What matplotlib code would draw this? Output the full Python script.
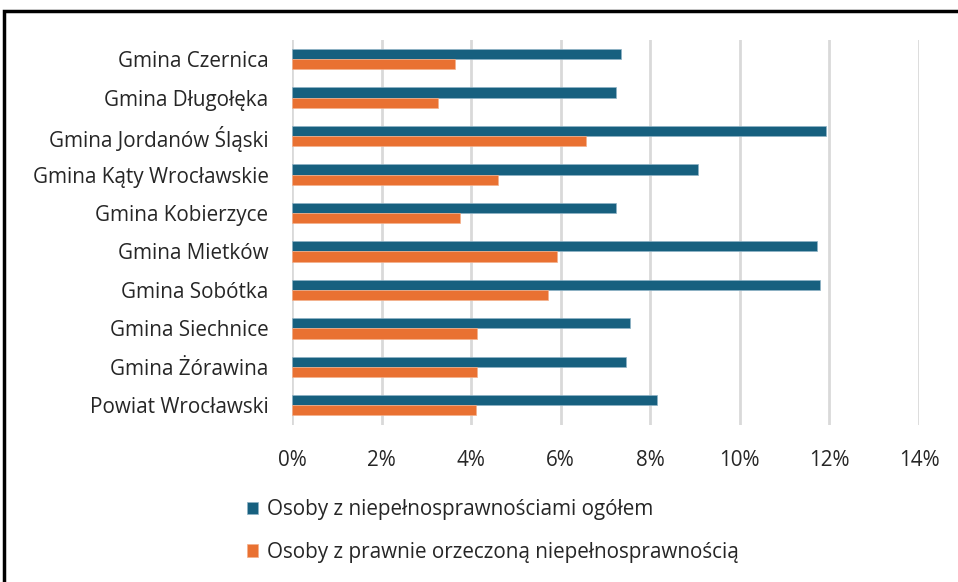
import numpy as np
import matplotlib.pyplot as plt
from matplotlib.patches import Rectangle
from matplotlib.ticker import PercentFormatter

plt.rcParams['font.family'] = ['Open Sans', 'DejaVu Sans']

categories = ['Gmina Czernica', 'Gmina Długołęka', 'Gmina Jordanów Śląski',
              'Gmina Kąty Wrocławskie', 'Gmina Kobierzyce', 'Gmina Mietków',
              'Gmina Sobótka', 'Gmina Siechnice', 'Gmina Żórawina',
              'Powiat Wrocławski']
ogolem = [7.34, 7.23, 11.93, 9.06, 7.23, 11.73, 11.78, 7.54, 7.46, 8.14]
orzeczona = [3.65, 3.25, 6.57, 4.60, 3.76, 5.91, 5.71, 4.14, 4.14, 4.11]
series_names = ['Osoby z niepełnosprawnościami ogółem',
                'Osoby z prawnie orzeczoną niepełnosprawnością']
xticks = [0, 2, 4, 6, 8, 10, 12, 14]

blue = '#17607f'
orange = '#e97132'
fs = 14.9

fig = plt.figure(figsize=(9.58, 5.82), dpi=100)
ax = fig.add_axes([292/958, 1 - 424.5/582, (919-292)/958, (424.5-40)/582])

y = np.arange(len(categories))
h = 0.265
ax.barh(y - h/2, ogolem, height=h, color=blue, edgecolor='#8fb3c6', linewidth=0.5,
        label=series_names[0], zorder=3)
ax.barh(y + h/2, orzeczona, height=h, color=orange, edgecolor='#f3b08c', linewidth=0.5,
        label=series_names[1], zorder=3)

ax.set_ylim(len(categories) - 0.5, -0.5)
ax.set_xlim(0, 14)
ax.set_xticks(xticks)
ax.xaxis.set_major_formatter(PercentFormatter(decimals=0))
ax.set_yticks(y)
ax.set_yticklabels(categories)
ax.tick_params(axis='both', length=0, labelsize=fs, colors='#262626')
ax.tick_params(axis='x', pad=18)
ax.tick_params(axis='y', pad=17)
for s in ax.spines.values():
    s.set_visible(False)
ax.grid(axis='x', color='#d9d9d9', linewidth=2, zorder=0)
ax.set_axisbelow(True)

handles, labels = ax.get_legend_handles_labels()
fig.legend(handles, labels, loc='center left', bbox_to_anchor=(228/958, 1 - 531/582),
           frameon=False, fontsize=fs, handlelength=0.55, handleheight=0.55,
           handletextpad=0.45, labelspacing=1.05, labelcolor='#262626')

# ramka wokół wykresu
fig.patches.append(Rectangle((4/958, -0.05), 1.1, 1 - 11/582 + 0.05,
                             transform=fig.transFigure, fill=False,
                             edgecolor='black', linewidth=2.5))

fig.savefig('out.png', dpi=100)
